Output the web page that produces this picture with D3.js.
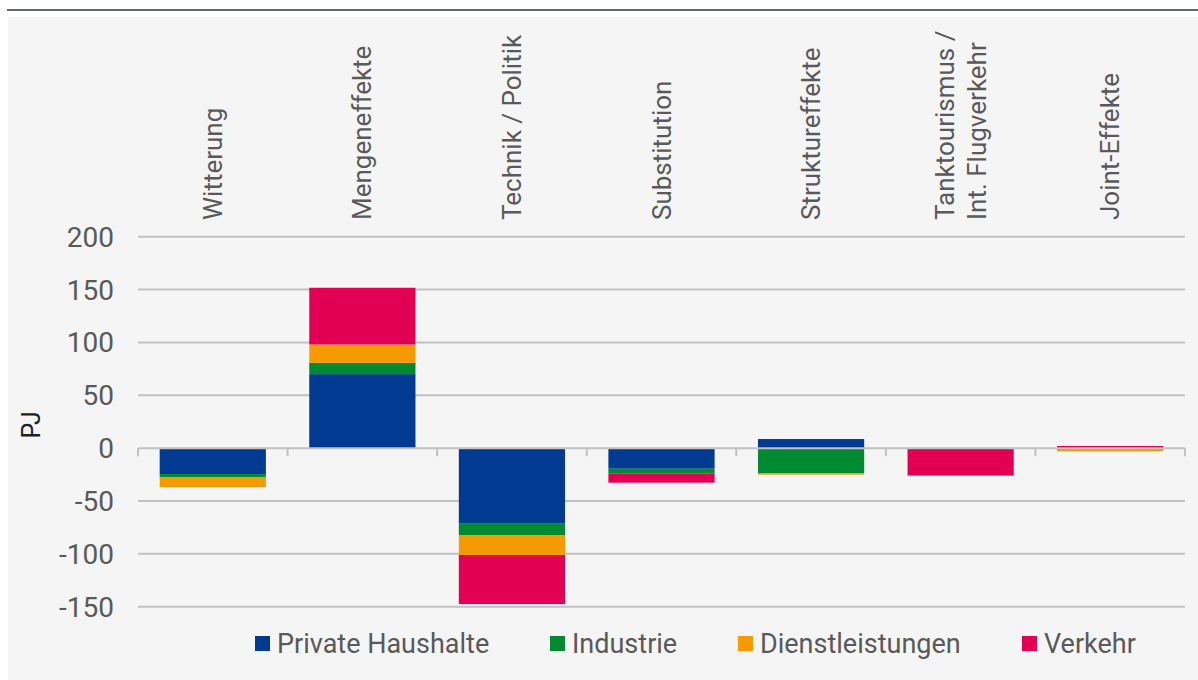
<!DOCTYPE html>
<html>
<head>
<meta charset="utf-8">
<script src="https://cdn.jsdelivr.net/npm/d3@7"></script>
<style>
  body { margin: 0; background: #fff; }
  svg { display: block; font-family: Roboto, "Liberation Sans", sans-serif; }
</style>
</head>
<body>
<svg id="chart" width="1198" height="680"></svg>
<script>
var categories = ['Witterung', 'Mengeneffekte', 'Technik / Politik', 'Substitution',
  'Struktureffekte', 'Tanktourismus /\nInt. Flugverkehr', 'Joint-Effekte'];
var seriesNames = ['Private Haushalte', 'Industrie', 'Dienstleistungen', 'Verkehr'];
var seriesColors = ['#003a91', '#008a32', '#f59a00', '#e20054'];

// PJ per sector
var privateHaushalte = [-24.5, 70, -71.5, -19.5, 8.6, 0, 0];
var industrie = [-2.8, 10.7, -10.7, -4.4, -23.9, 0, 0];
var dienstleistungen = [-9.5, 17.3, -18.9, 0, -1.2, 0, -3];
var verkehr = [0, 53.7, -46.4, -8.8, 0, -26, 2];
var yTicks = [-150, -100, -50, 0, 50, 100, 150, 200];

var rows = categories.map(function (c, i) {
  return { cat: c, 'Private Haushalte': privateHaushalte[i], 'Industrie': industrie[i],
    'Dienstleistungen': dienstleistungen[i], 'Verkehr': verkehr[i] };
});

var svg = d3.select('#chart');
var left = 138, right = 1185;

// panel
svg.append('rect').attr('x', 8).attr('y', 17).attr('width', 1190).attr('height', 663).attr('fill', '#f5f5f5');
svg.append('line').attr('x1', 7).attr('x2', 1198).attr('y1', 10).attr('y2', 10)
  .attr('stroke', '#5f6870').attr('stroke-width', 2);

var x = d3.scaleBand().domain(categories).range([left, right]).paddingInner(0.29).paddingOuter(0.145);
var y = d3.scaleLinear().domain([-150, 200]).range([606.7, 236.7]);

// gridlines
svg.append('g').selectAll('line').data(yTicks.filter(function (d) { return d !== 0; }))
  .enter().append('line')
  .attr('x1', left).attr('x2', right)
  .attr('y1', function (d) { return y(d); }).attr('y2', function (d) { return y(d); })
  .attr('stroke', '#bfc1c3').attr('stroke-width', 2);

// y labels
svg.append('g').selectAll('text').data(yTicks).enter().append('text')
  .attr('x', 114).attr('y', function (d) { return y(d); }).attr('dy', '0.36em')
  .attr('text-anchor', 'end').attr('fill', '#595959').style('font-size', '28px')
  .text(function (d) { return d; });

svg.append('text').attr('transform', 'translate(40,' + y(22) + ') rotate(-90)')
  .attr('text-anchor', 'middle').attr('fill', '#222').style('font-size', '25px').text('PJ');

// stacked bars
var stack = d3.stack().keys(seriesNames).offset(d3.stackOffsetDiverging);
var layers = stack(rows);

svg.append('g').selectAll('g').data(layers).enter().append('g')
  .attr('fill', function (d, i) { return seriesColors[i]; })
  .selectAll('rect').data(function (d) { return d; }).enter().append('rect')
  .attr('x', function (d) { return x(d.data.cat); })
  .attr('width', x.bandwidth())
  .attr('y', function (d) { return y(Math.max(d[0], d[1])); })
  .attr('height', function (d) { return Math.abs(y(d[0]) - y(d[1])); });

// zero axis with tick marks between categories
var step = (right - left) / categories.length;
var ax = svg.append('g').attr('stroke', '#bfc1c3').attr('stroke-width', 2);
ax.append('line').attr('x1', left).attr('x2', right).attr('y1', y(0)).attr('y2', y(0));
ax.selectAll('.tk').data(d3.range(categories.length + 1)).enter().append('line')
  .attr('x1', function (i) { return left + i * step; }).attr('x2', function (i) { return left + i * step; })
  .attr('y1', y(0)).attr('y2', y(0) + 8);

// category labels (rotated)
var catG = svg.append('g').selectAll('g').data(categories).enter().append('g')
  .attr('transform', function (d) {
    return 'translate(' + (x(d) + x.bandwidth() / 2) + ',220) rotate(-90)';
  });
catG.each(function (d) {
  var lines = d.split('\n');
  var n = lines.length;
  d3.select(this).selectAll('text').data(lines).enter().append('text')
    .attr('x', 0)
    .attr('y', function (l, i) { return (i - (n - 1) / 2) * 32; })
    .attr('dy', '0.35em')
    .attr('fill', '#595959').style('font-size', '26px')
    .text(function (l) { return l; });
});

// legend
var legendX = [255, 550, 738, 1022];
var lg = svg.append('g').selectAll('g').data(seriesNames).enter().append('g')
  .attr('transform', function (d, i) { return 'translate(' + legendX[i] + ',643)'; });
lg.append('rect').attr('x', 0).attr('y', -7).attr('width', 15).attr('height', 15)
  .attr('fill', function (d, i) { return seriesColors[i]; });
lg.append('text').attr('x', 22).attr('dy', '0.36em').attr('fill', '#595959')
  .style('font-size', '27px')
  .text(function (d) { return d; });
</script>
</body>
</html>
